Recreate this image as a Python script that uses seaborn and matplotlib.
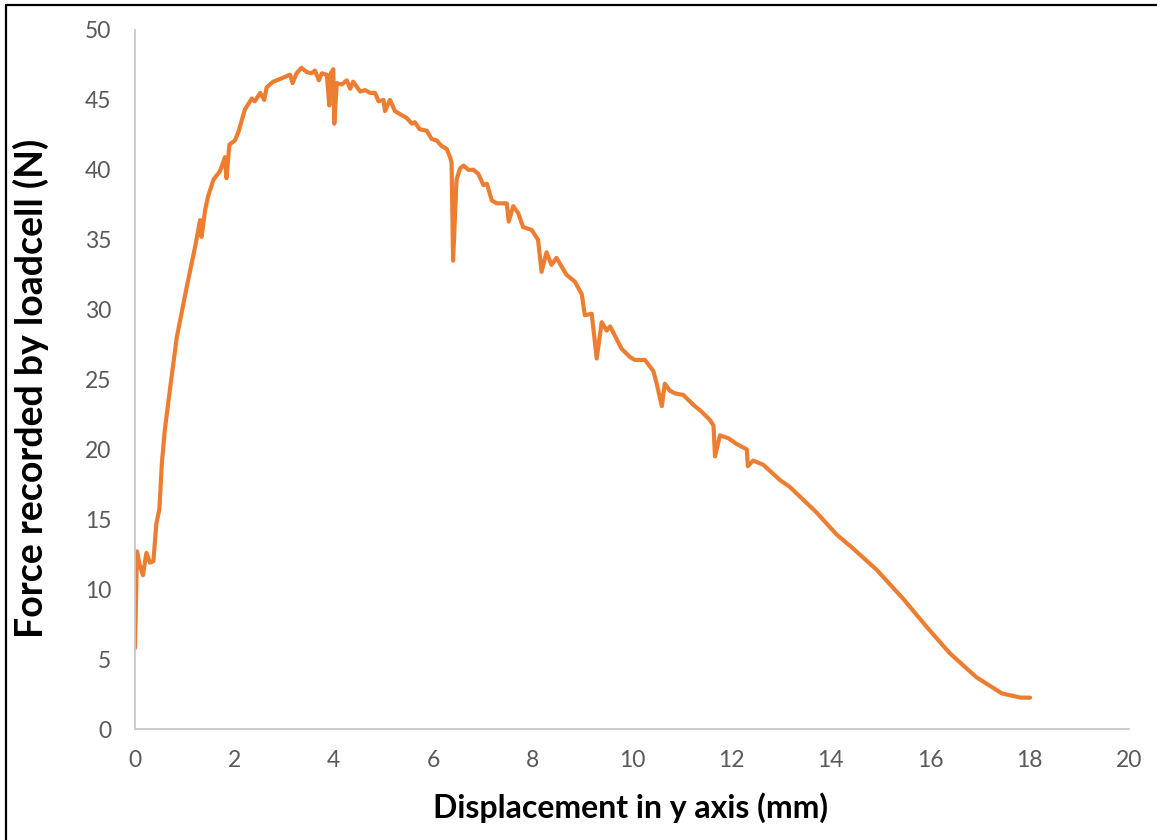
import matplotlib
matplotlib.use("Agg")
import matplotlib.pyplot as plt
import seaborn as sns
import pandas as pd
from matplotlib.lines import Line2D

displacement = [0.00, 0.04, 0.09, 0.16, 0.23, 0.30, 0.37, 0.43, 0.49, 0.54, 0.60, 0.70,
                0.84, 1.04, 1.21, 1.31, 1.34, 1.41, 1.47, 1.58, 1.71, 1.81, 1.84, 1.90,
                2.01, 2.08, 2.21, 2.35, 2.41, 2.52, 2.60, 2.65, 2.78, 2.92, 3.12, 3.17,
                3.25, 3.35, 3.45, 3.55, 3.62, 3.70, 3.76, 3.86, 3.91, 3.94, 3.99, 4.01,
                4.06, 4.16, 4.26, 4.33, 4.39, 4.53, 4.63, 4.73, 4.83, 4.90, 5.00, 5.03,
                5.13, 5.23, 5.37, 5.47, 5.57, 5.63, 5.73, 5.87, 5.97, 6.07, 6.17, 6.27,
                6.34, 6.37, 6.40, 6.47, 6.54, 6.61, 6.71, 6.81, 6.91, 7.01, 7.08, 7.18,
                7.28, 7.48, 7.52, 7.61, 7.71, 7.81, 7.98, 8.11, 8.18, 8.28, 8.38, 8.48,
                8.68, 8.85, 8.99, 9.05, 9.19, 9.29, 9.39, 9.49, 9.56, 9.79, 9.96, 10.06,
                10.26, 10.43, 10.49, 10.60, 10.66, 10.76, 10.87, 11.03, 11.23, 11.40, 11.57, 11.64,
                11.67, 11.77, 11.94, 12.10, 12.31, 12.33, 12.44, 12.64, 12.98, 13.18, 13.71, 14.12,
                14.42, 14.92, 15.46, 15.93, 16.40, 16.93, 17.44, 17.81, 18.01]
force = [5.8, 12.7, 11.8, 11.0, 12.6, 11.9, 12.0, 14.7, 15.7, 19.0, 21.4, 24.2,
         28.0, 31.6, 34.5, 36.4, 35.2, 37.1, 38.1, 39.3, 39.9, 40.9, 39.4, 41.8,
         42.1, 42.7, 44.3, 45.1, 44.9, 45.5, 45.0, 45.9, 46.3, 46.5, 46.8, 46.2,
         46.9, 47.3, 47.0, 46.9, 47.1, 46.4, 46.9, 46.8, 44.6, 46.9, 47.2, 43.3,
         46.2, 46.1, 46.4, 45.8, 46.3, 45.6, 45.7, 45.5, 45.5, 44.9, 45.0, 44.2,
         45.0, 44.2, 43.9, 43.7, 43.3, 43.4, 42.9, 42.8, 42.2, 42.1, 41.7, 41.5,
         40.9, 40.5, 33.5, 39.3, 40.1, 40.3, 40.0, 40.0, 39.7, 38.9, 39.0, 37.8,
         37.6, 37.6, 36.3, 37.4, 36.9, 35.9, 35.7, 35.0, 32.7, 34.1, 33.2, 33.7,
         32.5, 32.0, 31.1, 29.6, 29.7, 26.5, 29.1, 28.5, 28.8, 27.2, 26.6, 26.4,
         26.4, 25.6, 24.8, 23.1, 24.7, 24.2, 24.0, 23.9, 23.2, 22.7, 22.1, 21.7,
         19.5, 21.0, 20.8, 20.4, 20.0, 18.8, 19.2, 18.9, 17.8, 17.3, 15.5, 13.9,
         13.0, 11.4, 9.3, 7.3, 5.4, 3.7, 2.55, 2.25, 2.24]

x_ticks = [0, 2, 4, 6, 8, 10, 12, 14, 16, 18, 20]
y_ticks = [0, 5, 10, 15, 20, 25, 30, 35, 40, 45, 50]
x_label = "Displacement in y axis (mm)"
y_label = "Force recorded by loadcell (N)"

df = pd.DataFrame({"x": displacement, "y": force})

sns.set_theme(style="white")
plt.rcParams["font.family"] = ["Lato", "DejaVu Sans"]

W, H = 1157, 840
fig = plt.figure(figsize=(W / 100, H / 100), dpi=100)
ax = fig.add_axes([135 / W, 111 / H, (1129 - 135) / W, (729 - 30) / H])

sns.lineplot(data=df, x="x", y="y", ax=ax, sort=False, estimator=None,
             color="#ED7D31", linewidth=3.0, solid_joinstyle="round", solid_capstyle="round")

ax.set_xlim(0, 20)
ax.set_ylim(0, 50)
ax.set_xticks(x_ticks)
ax.set_yticks(y_ticks)
ax.tick_params(axis="both", length=0, labelsize=16.5, colors="#595959")
ax.tick_params(axis="x", pad=15)
ax.tick_params(axis="y", pad=17)
for s in ["top", "right"]:
    ax.spines[s].set_visible(False)
for s in ["left", "bottom"]:
    ax.spines[s].set_color("#C8C8C8")
    ax.spines[s].set_linewidth(1.3)
ax.grid(False)

ax.set_xlabel(x_label, fontsize=23, fontweight="bold", color="black")
ax.set_ylabel(y_label, fontsize=27, fontweight="bold", color="black")
ax.xaxis.set_label_coords(631 / W, 1 - 792 / H, transform=fig.transFigure)
ax.yaxis.set_label_coords(49 / W, 1 - 388 / H, transform=fig.transFigure)

# frame (top and left edges visible, image cropped on right/bottom)
fig.add_artist(Line2D([6 / W, 6 / W], [0, 1 - 5 / H], transform=fig.transFigure,
                      color="black", linewidth=1.6))
fig.add_artist(Line2D([6 / W, 1], [1 - 5 / H, 1 - 5 / H], transform=fig.transFigure,
                      color="black", linewidth=1.6))

fig.savefig("out.png", dpi=100)
